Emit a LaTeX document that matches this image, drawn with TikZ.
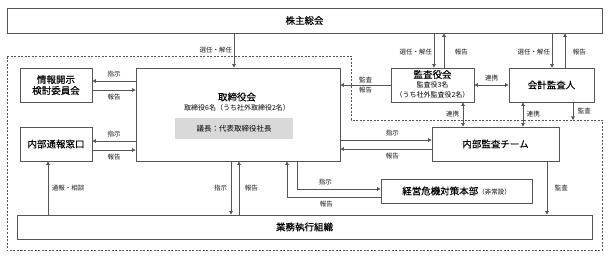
\documentclass[tikz,border=0pt]{standalone}
\usepackage{fontspec}
\setmainfont{Noto Sans CJK JP}
\newfontfamily\jpb[FakeBold=0.25]{Noto Sans CJK JP}
\usetikzlibrary{arrows.meta}
\definecolor{lc}{RGB}{85,85,85}
\definecolor{gfill}{RGB}{217,217,217}
\newcommand{\smallt}{\fontsize{7}{9.5}\selectfont}
\newcommand{\bigt}{\jpb\fontsize{9.5}{11}\selectfont}
\begin{document}
\begin{tikzpicture}[x=1pt,y=-1pt,
  box/.style={draw=lc, line width=0.8pt, fill=white, inner sep=0pt, align=center,
    font=\bigt},
  lbl/.style={font=\fontsize{6.5}{7}\selectfont, inner sep=1.5pt, text=black!90},
  arr/.style={draw=lc, line width=0.8pt, -{Triangle[length=3.5pt,width=3.5pt]}},
  darr/.style={draw=lc, line width=0.8pt, {Triangle[length=3.5pt,width=3.5pt]}-{Triangle[length=3.5pt,width=3.5pt]}},
  dsh/.style={draw=lc, line width=0.7pt, dash pattern=on 2pt off 1.5pt}]
\useasboundingbox (0,0) rectangle (612,264);

% group boundary
\draw[dsh] (7,56) -- (351,56) -- (351,120) -- (602,120) -- (602,250) -- (7,250) -- cycle;

% boxes
\node[box, minimum width=595pt, minimum height=25pt] (sh) at (304.5,20.5) {株主総会};
\node[box, minimum width=72pt, minimum height=34pt] (jk) at (56,85) {情報開示\\検討委員会};
\node[box, minimum width=204pt, minimum height=93pt] (tb) at (238,114.5) {};
\node[inner sep=0pt, font=\bigt] (tbt) at (237,97) {取締役会};
\node[inner sep=0pt, font=\fontsize{7}{8}\selectfont] (tbs) at (237,108) {取締役6名（うち社外取締役2名）};
\node[fill=gfill, inner sep=0pt, minimum width=118pt, minimum height=21pt,
  font=\fontsize{7.5}{8}\selectfont] (gc) at (234,128.5) {議長：代表取締役社長};
\node[box, minimum width=72pt, minimum height=34pt] (nt) at (56,144) {内部通報窓口};
\node[box, minimum width=83pt, minimum height=34pt] (ka) at (432.5,85) {};
\node[inner sep=0pt, font=\bigt] (kat) at (432.5,74.5) {監査役会};
\node[inner sep=0pt, font=\smallt] (kas) at (432.5,84.5) {監査役3名};
\node[inner sep=0pt, font=\smallt] (kas2) at (432.5,94.5) {（うち社外監査役2名）};
\node[box, minimum width=85pt, minimum height=34pt] (ak) at (551.5,85) {会計監査人};
\node[box, minimum width=127pt, minimum height=34pt] (nk) at (495.5,144) {内部監査チーム};
\node[box, minimum width=151pt, minimum height=24pt] (kk) at (456.5,191)
  {経営危機対策本部{\normalfont\fontsize{6.5}{7}\selectfont （非常設）}};
\node[box, minimum width=575pt, minimum height=24pt] (gs) at (304.5,227) {業務執行組織};

% shareholders meeting
\draw[arr] ([xshift=-70.5pt]sh.south) -- node[lbl, left, pos=0.5] {選任・解任} ([xshift=-4pt]tb.north);
\draw[arr] ([xshift=129.5pt]sh.south) -- node[lbl, left, pos=0.55] {選任・解任} ([xshift=1.5pt]ka.north);
\draw[arr] ([xshift=11.5pt]ka.north) -- node[lbl, right, pos=0.45, xshift=9pt] {報告} ([xshift=139.5pt]sh.south);
\draw[arr] ([xshift=247.5pt]sh.south) -- node[lbl, left, pos=0.55] {選任・解任} ([xshift=0.5pt]ak.north);
\draw[arr] ([xshift=13.5pt]ak.north) -- node[lbl, right, pos=0.45, xshift=6pt] {報告} ([xshift=260.5pt]sh.south);

% audit board
\draw[arr] (ka.west) -- node[lbl, above] {監査} node[lbl, below] {報告} (ka.west -| tb.east);
\draw[darr] (ka.east) -- node[lbl, above, yshift=2pt] {連携} (ak.west);
\draw[darr] ([xshift=30.5pt]ka.south) -- node[lbl, left, xshift=-2pt] {連携} ([xshift=-32.5pt]nk.north);
\draw[darr] ([xshift=-28.5pt]ak.south) -- node[lbl, right, xshift=2pt] {連携} ([xshift=27.5pt]nk.north);
\coordinate (akend) at (573,120);
\draw[arr] ([xshift=21.5pt]ak.south) -- node[lbl, right, xshift=3pt] {監査} (akend);

% board left side
\draw[arr] ([yshift=33.5pt]tb.west) -- node[lbl, above, yshift=2pt] {指示} ([yshift=4pt]jk.east);
\draw[arr] ([yshift=-5pt]jk.east) -- node[lbl, below, yshift=-2pt] {報告} ([yshift=24.5pt]tb.west);
\draw[arr] ([yshift=-26.5pt]tb.west) -- node[lbl, above, yshift=2pt] {指示} ([yshift=3pt]nt.east);
\draw[arr] ([yshift=-6pt]nt.east) -- node[lbl, below, yshift=-2pt] {報告} ([yshift=-35.5pt]tb.west);

% board and internal audit
\draw[arr] ([yshift=-25.5pt]tb.east) -- node[lbl, above, pos=0.57, yshift=2pt] {指示} ([yshift=4pt]nk.west);
\draw[arr] ([yshift=-5pt]nk.west) -- node[lbl, below, pos=0.43, yshift=-2pt] {報告} ([yshift=-34.5pt]tb.east);
\draw[arr] ([xshift=51.5pt]nk.south) -- node[lbl, right, xshift=6pt] {監査} ([xshift=242.5pt]gs.north);

% crisis HQ
\draw[arr] ([xshift=59pt]tb.south) |- node[lbl, above, pos=0.67, yshift=2pt] {指示} ([yshift=2pt]kk.west);
\draw[arr] ([yshift=-6pt]kk.west) -| node[lbl, below, pos=0.29, yshift=-2pt] {報告} ([xshift=49pt]tb.south);

% business execution
\draw[arr] ([xshift=-7pt]tb.south) -- node[lbl, left, xshift=-2pt] {指示} ([xshift=-73.5pt]gs.north);
\draw[arr] ([xshift=-65.5pt]gs.north) -- node[lbl, right, xshift=4pt] {報告} ([xshift=1pt]tb.south);
\draw[arr] ([xshift=-256.5pt]gs.north) -- node[lbl, right, xshift=2pt] {通報・相談} ([xshift=-8pt]nt.south);
\end{tikzpicture}
\end{document}
